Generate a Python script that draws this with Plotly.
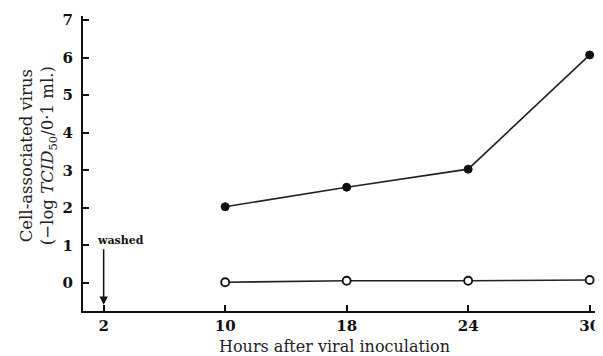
import plotly.graph_objects as go

hours = ["10", "18", "24", "30"]
x_ticks = ["2", "10", "18", "24", "30"]
filled_virus = [2.03, 2.55, 3.03, 6.07]
open_virus = [0.02, 0.06, 0.06, 0.08]
y_ticks = [0, 1, 2, 3, 4, 5, 6, 7]

FONT = "DejaVu Serif"

fig = go.Figure()
fig.add_trace(go.Scatter(
    x=hours, y=filled_virus, mode="lines+markers",
    line=dict(color="#222", width=1.6),
    marker=dict(symbol="circle", size=8, color="#111", line=dict(color="#111", width=1)),
    showlegend=False, cliponaxis=False,
))
fig.add_trace(go.Scatter(
    x=hours, y=open_virus, mode="lines+markers",
    line=dict(color="#222", width=1.6),
    marker=dict(symbol="circle", size=8, color="white", line=dict(color="#111", width=1.8)),
    showlegend=False, cliponaxis=False,
))

fig.update_xaxes(
    type="category", categoryorder="array", categoryarray=x_ticks,
    tickvals=x_ticks, ticktext=x_ticks,
    range=[-0.17, 4.085],
    showline=True, linecolor="#111", linewidth=2,
    ticks="inside", ticklen=6, tickcolor="#111", tickwidth=1.5,
    showgrid=False, zeroline=False,
    tickfont=dict(family=FONT, size=15, color="#111", weight="bold"),
)
fig.update_yaxes(
    range=[-0.745, 7.106],
    tickvals=y_ticks,
    showline=True, linecolor="#111", linewidth=2,
    ticks="inside", ticklen=6, tickcolor="#111", tickwidth=1.5,
    showgrid=False, zeroline=False, ticklabelstandoff=5,
    tickfont=dict(family=FONT, size=15, color="#111", weight="bold"),
)

fig.add_annotation(
    x=0.0, xref="x", y=-0.58, yref="y", text="", showarrow=True,
    ax=0, ay=-57, arrowhead=2, arrowsize=1.1, arrowwidth=1.5, arrowcolor="#111",
)
fig.add_annotation(
    x=0.0, xref="x", y=1.14, yref="y", text="<b>washed</b>", showarrow=False,
    xanchor="left", yanchor="middle", xshift=-9,
    font=dict(family=FONT, size=11, color="#111"),
)
fig.add_annotation(
    x=-0.087, xref="paper", y=0.525, yref="paper", textangle=-90,
    text="Cell-associated virus<br>(−log <i>TCID</i><sub>50</sub>/0·1 ml.)",
    showarrow=False, xanchor="center", yanchor="middle",
    font=dict(family=FONT, size=16.5, color="#222"),
)
fig.add_annotation(
    x=0.487, xref="paper", y=-0.122, yref="paper",
    text="Hours after viral inoculation",
    showarrow=False, xanchor="center", yanchor="middle",
    font=dict(family=FONT, size=16, color="#222"),
)

fig.update_layout(
    width=595, height=348,
    margin=dict(l=75, r=3, t=8, b=45),
    plot_bgcolor="white", paper_bgcolor="white",
)
fig.write_html("out.html")
